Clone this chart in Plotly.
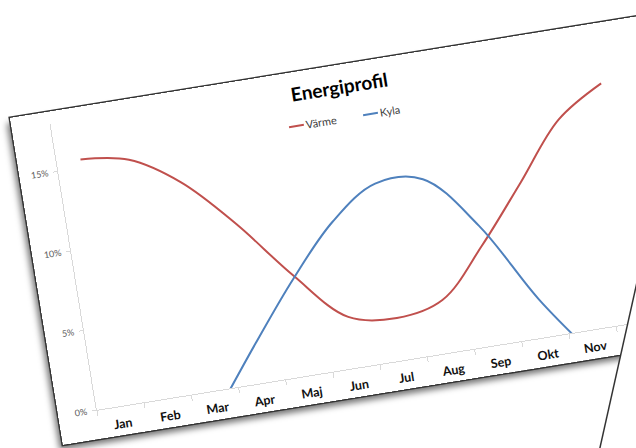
import plotly.graph_objects as go

# Monthly energy profile (share of yearly demand, %)
months = ["Jan", "Feb", "Mar", "Apr", "Maj", "Jun", "Jul", "Aug", "Sep", "Okt", "Nov", "Dec"]
varme = [15.5, 15.0, 13.1, 10.0, 6.3, 3.2, 2.65, 3.3, 6.25, 9.7, 13.2, 15.0]
kyla = [None, None, -1.3, 2.5, 6.1, 9.2, 11.1, 10.9, 7.5, 2.35, -1.8, None]

series_names = ["Värme", "Kyla"]
series_colors = ["#C0504D", "#4F81BD"]
y_ticks = [0, 5, 10, 15]
y_tick_labels = [f"{v}%" for v in y_ticks]

W, H = 660, 331
ML, MR, MT, MB = 39, 47, 12, 29
FONT = "Lato"

fig = go.Figure()
for name, vals, col in zip(series_names, [varme, kyla], series_colors):
    fig.add_trace(go.Scatter(
        x=months, y=vals, name=name, mode="lines",
        line=dict(color=col, width=2, shape="spline", smoothing=1.0),
        connectgaps=False, showlegend=False, hoverinfo="skip",
    ))

# Small legend row under the title: short line sample + label
plot_w, plot_h = W - ML - MR, H - MT - MB
legend_line_start = [274, 349]
legend_row = 53.7
shapes, annotations = [], []
for name, col, x0 in zip(series_names, series_colors, legend_line_start):
    fx0 = (x0 - ML) / plot_w
    fx1 = (x0 + 15 - ML) / plot_w
    fy = (H - MB - legend_row) / plot_h
    shapes.append(dict(type="line", xref="paper", yref="paper",
                       x0=fx0, x1=fx1, y0=fy, y1=fy,
                       line=dict(color=col, width=2)))
    annotations.append(dict(text=name, xref="paper", yref="paper",
                            x=fx1, y=fy, xanchor="left", yanchor="middle",
                            showarrow=False,
                            font=dict(family=FONT, size=11, color="#404040")))

fig.update_layout(
    width=W, height=H,
    margin=dict(l=ML, r=MR, t=MT, b=MB, pad=0, autoexpand=False),
    paper_bgcolor="#ffffff", plot_bgcolor="#ffffff",
    title=dict(text="Energiprofil", x=0.5, xref="container", xanchor="center",
               y=1 - 22.5 / H, yref="container", yanchor="middle",
               font=dict(family=FONT, size=19, color="#000000", weight="bold")),
    shapes=shapes, annotations=annotations,
    xaxis=dict(
        type="category", range=[-0.5, 11.5], tickson="boundaries",
        automargin=False,
        showline=True, linecolor="#d9d9d9", linewidth=1,
        ticks="outside", ticklen=5, tickcolor="#d9d9d9", tickwidth=1,
        ticklabelstandoff=6,
        tickfont=dict(family=FONT, size=12.5, color="#111111", weight="bold"),
        showgrid=False, zeroline=False, fixedrange=True,
    ),
    yaxis=dict(
        range=[0, 18], tickmode="array", tickvals=y_ticks, ticktext=y_tick_labels,
        automargin=False,
        showline=True, linecolor="#d9d9d9", linewidth=1,
        ticks="outside", ticklen=4, tickcolor="#d9d9d9", tickwidth=1,
        ticklabelstandoff=3,
        tickfont=dict(family=FONT, size=9, color="#595959"),
        showgrid=False, zeroline=False, fixedrange=True,
    ),
)

# Lay the sheet down at an angle on the page, with a second sheet on top at the right
page_js = """
var gd = document.getElementById('{plot_id}');
var b = document.body;
document.documentElement.style.overflow = 'hidden';
b.style.overflow = 'hidden';
b.style.margin = '0';
b.style.background = '#ffffff';
gd.style.position = 'absolute';
gd.style.left = '0px';
gd.style.top = '0px';
gd.style.transformOrigin = '0 0';
gd.style.transform = 'translate(10px,118px) rotate(-9.2deg)';
gd.style.boxShadow = '0 0 0 1.5px #333333, -4px 5px 6px rgba(0,0,0,0.55)';
var sheet = document.createElement('div');
sheet.style.cssText = 'position:absolute;left:0;top:0;width:400px;height:520px;' +
  'background:#ffffff;transform-origin:0 0;' +
  'transform:translate(638px,281px) rotate(12.6deg);' +
  'box-shadow:-1px 0 0 0.5px #333333;';
b.appendChild(sheet);
"""

fig.write_html("out.html", config={"displayModeBar": False}, post_script=page_js)
